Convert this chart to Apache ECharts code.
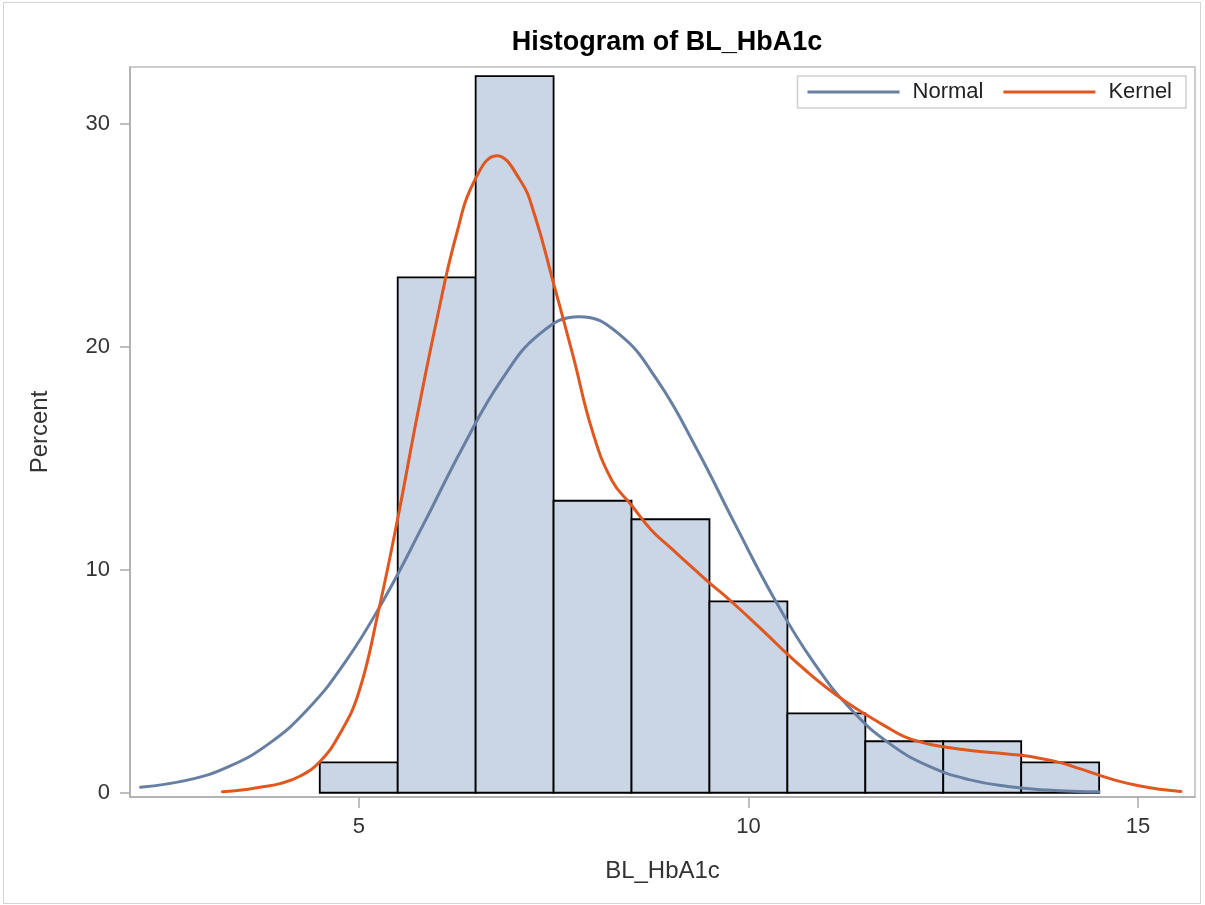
<!DOCTYPE html>
<html>
<head>
<meta charset="utf-8">
<script src="https://cdn.jsdelivr.net/npm/echarts@6/dist/echarts.min.js"></script>
<style>
  html, body { margin: 0; padding: 0; background: #fff; }
  #chart { width: 1205px; height: 905px; }
  #frame { position: absolute; left: 3px; top: 2px; width: 1196px; height: 900px; border: 1px solid #d4d4d4; pointer-events: none; }
</style>
</head>
<body>
<div id="chart"></div>
<div id="frame"></div>
<script>
// Histogram bins (centers, width 1) and percents
const binMid = [5, 6, 7, 8, 9, 10, 11, 12, 13, 14];
const binPct = [1.36, 23.12, 32.15, 13.1, 12.27, 8.59, 3.56, 2.31, 2.31, 1.36];

// Normal fit curve (peak near 7.83)
const normX = [2.2, 2.83, 3.33, 3.83, 4.33, 4.83, 5.33, 5.83, 6.33, 6.83, 7.33, 7.83, 8.33, 8.83, 9.33, 9.83, 10.33, 10.83, 11.33, 11.83, 12.33, 12.83, 13.33, 13.83, 14.33, 14.5];
const normY = [0.25, 0.59, 1.17, 2.16, 3.69, 5.88, 8.72, 12.04, 15.47, 18.51, 20.61, 21.36, 20.61, 18.51, 15.47, 12.04, 8.72, 5.88, 3.69, 2.16, 1.17, 0.59, 0.28, 0.12, 0.05, 0.04];

// Kernel density curve
const kernX = [3.25, 3.5, 3.75, 4.0, 4.25, 4.5, 4.75, 5.0, 5.25, 5.5, 5.75, 6.0, 6.25, 6.49, 6.77, 7.07, 7.25, 7.5, 7.75, 8.0, 8.25, 8.5, 8.75, 9.0, 9.25, 9.5, 9.75, 10.0, 10.25, 10.5, 10.75, 11.0, 11.25, 11.5, 11.75, 12.0, 12.25, 12.5, 12.75, 13.0, 13.25, 13.5, 13.75, 14.0, 14.25, 14.5, 14.75, 15.0, 15.25, 15.55];
const kernY = [0.05, 0.12, 0.26, 0.42, 0.75, 1.39, 2.6, 4.5, 8.1, 12.3, 16.9, 21.2, 25.0, 27.49, 28.58, 27.49, 26.0, 22.85, 19.6, 16.2, 14.0, 12.9, 11.8, 11.0, 10.2, 9.42, 8.68, 7.88, 7.06, 6.22, 5.44, 4.72, 4.08, 3.52, 3.0, 2.52, 2.24, 2.06, 1.94, 1.84, 1.76, 1.68, 1.54, 1.35, 1.08, 0.79, 0.52, 0.32, 0.17, 0.06];

// Tick labels
const xTicks = [5, 10, 15];
const yTicks = [0, 10, 20, 30];

const FONT = "'Liberation Sans', Arial, sans-serif";
const BIN_W = 1;
const NORMAL_COLOR = '#667FA2';
const KERNEL_COLOR = '#E0571F';

const chart = echarts.init(document.getElementById('chart'), null, { renderer: 'canvas' });

// A smooth curve through the read points, drawn once via the axes' scales
function curveSeries(name, xs, ys, color, z) {
  return {
    type: 'custom',
    name: name,
    data: xs.map((x, i) => [x, ys[i]]),
    encode: { x: 0, y: 1 },
    itemStyle: { color: color },
    renderItem: function (params, api) {
      if (params.dataIndex !== 0) return null;
      const pts = xs.map((x, i) => api.coord([x, ys[i]]));
      return {
        type: 'polyline',
        shape: { points: pts, smooth: 0.45 },
        style: { stroke: color, lineWidth: 3, fill: 'none', lineJoin: 'round', lineCap: 'round' }
      };
    },
    z: z
  };
}

const option = {
  backgroundColor: '#fff',
  animation: false,
  title: {
    text: 'Histogram of BL_HbA1c',
    left: 662,
    top: 24,
    textAlign: 'center',
    textStyle: { fontFamily: FONT, fontSize: 27, fontWeight: 'bold', color: '#000' }
  },
  legend: {
    right: 19,
    top: 76,
    orient: 'horizontal',
    padding: [5, 14, 5, 10],
    itemGap: 20,
    itemWidth: 92,
    itemHeight: 3,
    icon: 'rect',
    borderColor: '#cfcfcf',
    borderWidth: 1.5,
    data: ['Normal', 'Kernel'],
    textStyle: { fontFamily: FONT, fontSize: 22, color: '#222', padding: [0, 0, 0, 8] }
  },
  grid: {
    left: 130, right: 10, top: 67, bottom: 108,
    show: true,
    borderColor: '#bdbdbd',
    borderWidth: 1.5,
    containLabel: false
  },
  xAxis: {
    type: 'value',
    min: 2.065,
    max: 15.73,
    name: 'BL_HbA1c',
    nameLocation: 'middle',
    nameGap: 62,
    nameTextStyle: { fontFamily: FONT, fontSize: 24, color: '#333' },
    axisLine: { show: true, onZero: false, lineStyle: { color: '#aaaaaa', width: 1.5 } },
    axisTick: { show: true, length: 11, customValues: xTicks, lineStyle: { color: '#aaaaaa', width: 1.5 } },
    axisLabel: { customValues: xTicks, margin: 19, fontFamily: FONT, fontSize: 22, color: '#333' },
    splitLine: { show: false }
  },
  yAxis: {
    type: 'value',
    min: -0.19,
    max: 32.56,
    name: 'Percent',
    nameLocation: 'middle',
    nameGap: 78,
    nameTextStyle: { fontFamily: FONT, fontSize: 24, color: '#333' },
    axisLine: { show: true, onZero: false, lineStyle: { color: '#aaaaaa', width: 1.5 } },
    axisTick: { show: true, length: 10, customValues: yTicks, lineStyle: { color: '#aaaaaa', width: 1.5 } },
    axisLabel: { customValues: yTicks, margin: 20, fontFamily: FONT, fontSize: 22, color: '#333' },
    splitLine: { show: false }
  },
  series: [
    {
      type: 'custom',
      name: 'Histogram',
      data: binMid.map((m, i) => [m, binPct[i]]),
      encode: { x: 0, y: 1 },
      renderItem: function (params, api) {
        const mid = api.value(0);
        const pct = api.value(1);
        const p0 = api.coord([mid - BIN_W / 2, pct]);
        const p1 = api.coord([mid + BIN_W / 2, 0]);
        return {
          type: 'rect',
          shape: { x: p0[0], y: p0[1], width: p1[0] - p0[0], height: p1[1] - p0[1] },
          style: { fill: '#CAD5E5', stroke: '#000', lineWidth: 1.8 }
        };
      },
      z: 1
    },
    curveSeries('Normal', normX, normY, NORMAL_COLOR, 3),
    curveSeries('Kernel', kernX, kernY, KERNEL_COLOR, 4)
  ]
};

chart.setOption(option);
</script>
</body>
</html>
